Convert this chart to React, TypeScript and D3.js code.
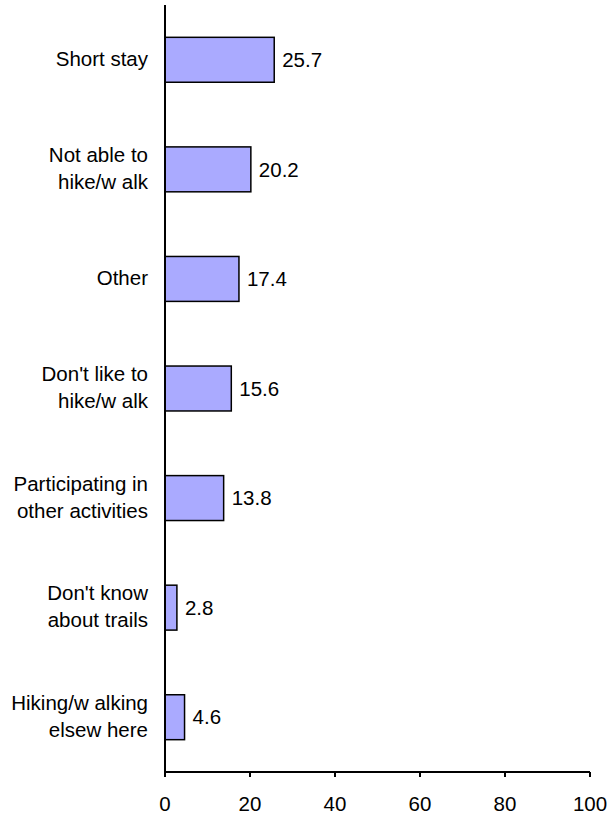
import React from "react";
import * as d3 from "d3";

const categories: string[][] = [
  ["Short stay"],
  ["Not able to", "hike/w alk"],
  ["Other"],
  ["Don't like to", "hike/w alk"],
  ["Participating in", "other activities"],
  ["Don't know", "about trails"],
  ["Hiking/w alking", "elsew here"],
];
const values: number[] = [25.7, 20.2, 17.4, 15.6, 13.8, 2.8, 4.6];
const xTicks: number[] = [0, 20, 40, 60, 80, 100];

export default function App() {
  const W = 608, H = 815;
  const left = 165, right = 590, top = 5, bottom = 772;
  const x = d3.scaleLinear().domain([0, 100]).range([left, right]);
  const y = d3
    .scaleBand<number>()
    .domain(d3.range(categories.length))
    .range([top, bottom])
    .paddingInner(0.59)
    .paddingOuter(0.295);
  const font = "'Liberation Sans', Arial, sans-serif";
  const fs = 20.5;
  return (
    <svg width={W} height={H} style={{ position: "absolute", left: 0, top: 0 }} fontFamily={font}>
      {values.map((v, i) => {
        const by = y(i)!;
        const bh = y.bandwidth();
        const cy = by + bh / 2;
        const lines = categories[i];
        return (
          <g key={i}>
            <rect x={x(0)} y={by} width={x(v) - x(0)} height={bh} fill="#aaaaff" stroke="#000" strokeWidth={1.5} />
            <text x={x(v) + 8} y={cy} dy="0.35em" fontSize={fs} fill="#000">
              {v.toFixed(1)}
            </text>
            {lines.map((l, j) => (
              <text
                key={j}
                x={148}
                y={cy - 1 + (j - (lines.length - 1) / 2) * 27}
                dy="0.35em"
                fontSize={fs}
                textAnchor="end"
                fill="#000"
              >
                {l}
              </text>
            ))}
          </g>
        );
      })}
      <line x1={left} x2={left} y1={top} y2={bottom} stroke="#000" strokeWidth={2} />
      <line x1={left} x2={right} y1={bottom} y2={bottom} stroke="#000" strokeWidth={2} />
      {xTicks.map((t) => (
        <g key={t}>
          <line x1={x(t)} x2={x(t)} y1={bottom} y2={bottom + 5} stroke="#000" strokeWidth={2} />
          <text x={x(t)} y={804} dy="0.35em" textAnchor="middle" fontSize={fs} fill="#000">
            {t}
          </text>
        </g>
      ))}
    </svg>
  );
}
